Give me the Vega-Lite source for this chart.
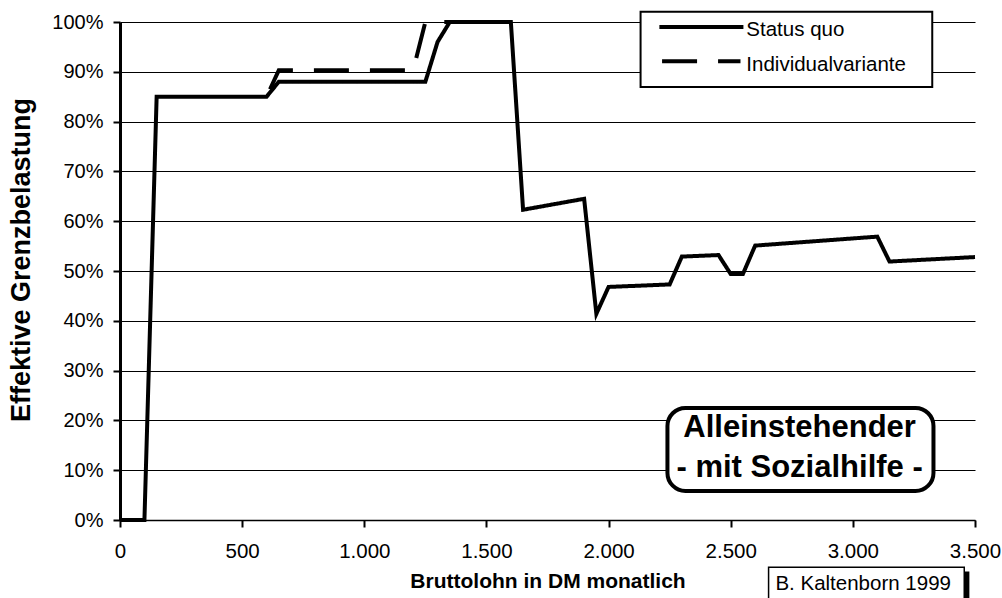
{
  "$schema": "https://vega.github.io/schema/vega-lite/v6.json",
  "width": 855,
  "height": 498,
  "autosize": {"type": "none"},
  "padding": {"left": 120, "top": 22, "right": 27, "bottom": 78},
  "background": "white",
  "config": {
    "view": {"stroke": null},
    "font": "Liberation Sans",
    "axis": {"labelFont": "Liberation Sans", "titleFont": "Liberation Sans", "labelColor": "black", "titleColor": "black", "domainColor": "black", "tickColor": "black"}
  },
  "datasets": {
    "lines": [
      {"lohn": 600, "belastung": 85, "serie": "Individualvariante"},
      {"lohn": 650, "belastung": 90.3, "serie": "Individualvariante"},
      {"lohn": 1200, "belastung": 90.3, "serie": "Individualvariante"},
      {"lohn": 1250, "belastung": 100, "serie": "Individualvariante"},
      {"lohn": 1600, "belastung": 100, "serie": "Individualvariante"},
      {"lohn": 0, "belastung": 0, "serie": "Status quo"},
      {"lohn": 100, "belastung": 0, "serie": "Status quo"},
      {"lohn": 150, "belastung": 85, "serie": "Status quo"},
      {"lohn": 600, "belastung": 85, "serie": "Status quo"},
      {"lohn": 650, "belastung": 88, "serie": "Status quo"},
      {"lohn": 1250, "belastung": 88, "serie": "Status quo"},
      {"lohn": 1300, "belastung": 96, "serie": "Status quo"},
      {"lohn": 1350, "belastung": 100, "serie": "Status quo"},
      {"lohn": 1600, "belastung": 100, "serie": "Status quo"},
      {"lohn": 1650, "belastung": 62.3, "serie": "Status quo"},
      {"lohn": 1900, "belastung": 64.5, "serie": "Status quo"},
      {"lohn": 1950, "belastung": 41.4, "serie": "Status quo"},
      {"lohn": 2000, "belastung": 46.8, "serie": "Status quo"},
      {"lohn": 2250, "belastung": 47.3, "serie": "Status quo"},
      {"lohn": 2300, "belastung": 52.9, "serie": "Status quo"},
      {"lohn": 2450, "belastung": 53.2, "serie": "Status quo"},
      {"lohn": 2500, "belastung": 49.4, "serie": "Status quo"},
      {"lohn": 2550, "belastung": 49.4, "serie": "Status quo"},
      {"lohn": 2600, "belastung": 55.1, "serie": "Status quo"},
      {"lohn": 3100, "belastung": 56.9, "serie": "Status quo"},
      {"lohn": 3150, "belastung": 51.9, "serie": "Status quo"},
      {"lohn": 3500, "belastung": 52.8, "serie": "Status quo"}
    ]
  },
  "layer": [
    {
      "data": {"name": "lines"},
      "mark": {"type": "line", "color": "black", "strokeWidth": 4, "strokeDashOffset": 47.8, "strokeJoin": "miter"},
      "encoding": {
        "x": {
          "field": "lohn", "type": "quantitative",
          "scale": {"domain": [0, 3500], "nice": false},
          "axis": {
            "values": [0, 500, 1000, 1500, 2000, 2500, 3000, 3500],
            "labelExpr": "replace(format(datum.value, ','), ',', '.')",
            "labelFontSize": 20.5, "labelPadding": 14, "tickSize": 7, "grid": false,
            "labelFlush": false, "labelOverlap": false,
            "domainWidth": 1.5, "tickWidth": 2,
            "title": "Bruttolohn in DM monatlich", "titleFontSize": 21, "titleFontWeight": "bold",
            "titleBaseline": "alphabetic", "titleY": 67
          }
        },
        "y": {
          "field": "belastung", "type": "quantitative",
          "scale": {"domain": [0, 100], "nice": false},
          "axis": {
            "values": [0, 10, 20, 30, 40, 50, 60, 70, 80, 90, 100],
            "labelExpr": "datum.value + '%'",
            "labelFontSize": 20, "labelPadding": 10, "tickSize": 7,
            "labelFlush": false, "labelOverlap": false,
            "grid": true, "gridColor": "black", "gridWidth": 1,
            "domainWidth": 3, "tickWidth": 2,
            "title": "Effektive Grenzbelastung", "titleFontSize": 27, "titleFontWeight": "bold",
            "titleBaseline": "alphabetic", "titleX": -91, "titleY": 237.5, "titleAngle": 270
          }
        },
        "strokeDash": {
          "field": "serie", "type": "nominal",
          "scale": {"domain": ["Individualvariante", "Status quo"], "range": [[35, 21], [1, 0]]},
          "legend": null
        },
        "order": {"field": "serie", "sort": "ascending"},
        "detail": {"field": "serie"}
      }
    },
    {
      "data": {"values": [{}]},
      "mark": {"type": "rect", "fill": "white", "stroke": "black", "strokeWidth": 2},
      "encoding": {
        "x": {"datum": 2131}, "x2": {"datum": 3325},
        "y": {"datum": 102.05}, "y2": {"datum": 86.97}
      }
    },
    {
      "data": {"values": [{}]},
      "mark": {"type": "rule", "color": "black", "strokeWidth": 4},
      "encoding": {
        "x": {"datum": 2208}, "x2": {"datum": 2552},
        "y": {"datum": 99.0}
      }
    },
    {
      "data": {"values": [{}]},
      "mark": {"type": "rule", "color": "black", "strokeWidth": 4, "strokeDash": [35, 21]},
      "encoding": {
        "x": {"datum": 2219}, "x2": {"datum": 2540},
        "y": {"datum": 92.1}
      }
    },
    {
      "data": {"values": [{"t": "Status quo"}]},
      "mark": {"type": "text", "align": "left", "baseline": "alphabetic", "fontSize": 20.5, "color": "black"},
      "encoding": {"x": {"datum": 2564}, "y": {"datum": 97.15}, "text": {"field": "t"}}
    },
    {
      "data": {"values": [{"t": "Individualvariante"}]},
      "mark": {"type": "text", "align": "left", "baseline": "alphabetic", "fontSize": 20.5, "color": "black"},
      "encoding": {"x": {"datum": 2564}, "y": {"datum": 90.1}, "text": {"field": "t"}}
    },
    {
      "data": {"values": [{}]},
      "mark": {"type": "rect", "fill": "white", "stroke": "black", "strokeWidth": 4, "cornerRadius": 18},
      "encoding": {
        "x": {"datum": 2241}, "x2": {"datum": 3330},
        "y": {"datum": 22.5}, "y2": {"datum": 5.83}
      }
    },
    {
      "data": {"values": [{"t": "Alleinstehender"}]},
      "mark": {"type": "text", "align": "center", "baseline": "alphabetic", "fontSize": 31, "fontWeight": "bold", "color": "black"},
      "encoding": {"x": {"datum": 2782}, "y": {"datum": 16.75}, "text": {"field": "t"}}
    },
    {
      "data": {"values": [{"t": "- mit Sozialhilfe -"}]},
      "mark": {"type": "text", "align": "center", "baseline": "alphabetic", "fontSize": 31, "fontWeight": "bold", "color": "black"},
      "encoding": {"x": {"datum": 2782}, "y": {"datum": 8.7}, "text": {"field": "t"}}
    },
    {
      "data": {"values": [{}]},
      "mark": {"type": "rect", "fill": "black"},
      "encoding": {
        "x": {"datum": 2671}, "x2": {"datum": 3477},
        "y": {"datum": -10.35}, "y2": {"datum": -17}
      }
    },
    {
      "data": {"values": [{}]},
      "mark": {"type": "rect", "fill": "white", "stroke": "black", "strokeWidth": 1.5},
      "encoding": {
        "x": {"datum": 2655}, "x2": {"datum": 3456},
        "y": {"datum": -9.5}, "y2": {"datum": -17}
      }
    },
    {
      "data": {"values": [{"t": "B. Kaltenborn 1999"}]},
      "mark": {"type": "text", "align": "left", "baseline": "alphabetic", "fontSize": 20.5, "color": "black"},
      "encoding": {"x": {"datum": 2683}, "y": {"datum": -14.1}, "text": {"field": "t"}}
    }
  ]
}
